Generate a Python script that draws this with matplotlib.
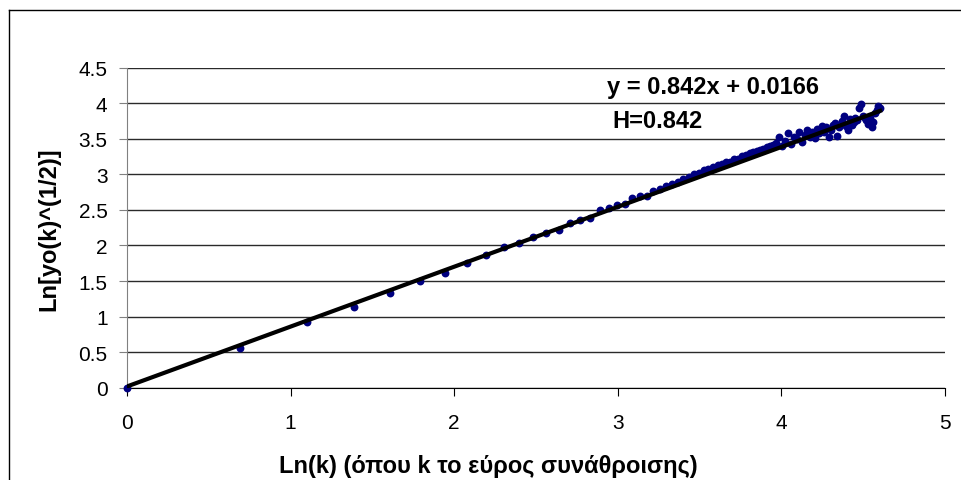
import numpy as np
import matplotlib
matplotlib.use("Agg")
import matplotlib.pyplot as plt
from matplotlib.lines import Line2D

# aggregation width k and measured Ln[yo(k)^(1/2)]
k_values = list(range(1, 101))
ln_y = [
    0.00, 0.56, 0.92, 1.14, 1.33, 1.50, 1.61, 1.75, 1.86, 1.98,
    2.03, 2.12, 2.17, 2.22, 2.31, 2.36, 2.39, 2.50, 2.53, 2.57,
    2.59, 2.67, 2.70, 2.70, 2.76, 2.80, 2.84, 2.86, 2.90, 2.94,
    2.96, 3.00, 3.02, 3.06, 3.07, 3.10, 3.13, 3.14, 3.17, 3.18,
    3.21, 3.22, 3.26, 3.27, 3.30, 3.31, 3.33, 3.35, 3.36, 3.39,
    3.40, 3.42, 3.44, 3.53, 3.40, 3.47, 3.58, 3.43, 3.52, 3.50,
    3.59, 3.46, 3.55, 3.63, 3.52, 3.60, 3.51, 3.64, 3.58, 3.68,
    3.59, 3.66, 3.52, 3.62, 3.70, 3.73, 3.54, 3.67, 3.75, 3.82,
    3.68, 3.62, 3.78, 3.70, 3.74, 3.80, 3.76, 3.93, 3.99, 3.82,
    3.79, 3.76, 3.71, 3.80, 3.67, 3.74, 3.86, 3.90, 3.96, 3.93,
]

# linear trendline from the chart
slope = 0.842
intercept = 0.0166

x_ticks = [0, 1, 2, 3, 4, 5]
y_ticks = [0, 0.5, 1, 1.5, 2, 2.5, 3, 3.5, 4, 4.5]

plt.rcParams["font.family"] = ["Liberation Sans", "DejaVu Sans"]

x = np.log(k_values)
y = np.array(ln_y)

fig = plt.figure(figsize=(9.62, 4.81), dpi=100)
ax = fig.add_axes([0.132, 0.192, 0.85, 0.665])

ax.scatter(x, y, s=32, color="#000080", zorder=3, linewidths=0, clip_on=False)

x_fit = np.array([x.min(), x.max()])
ax.plot(x_fit, slope * x_fit + intercept, color="black", linewidth=3.0, zorder=4)

ax.set_xlim(0, 5)
ax.set_ylim(0, 4.5)
ax.set_xticks(x_ticks)
ax.set_yticks(y_ticks)
ax.set_xticklabels([str(t) for t in x_ticks])
ax.set_yticklabels([f"{t:g}" for t in y_ticks])
ax.tick_params(axis="both", labelsize=15, direction="out", length=6, width=0.8)
ax.tick_params(axis="x", pad=12, colors="black")
ax.tick_params(axis="y", pad=8, color="#808080", labelcolor="black")

ax.grid(True, axis="y", color="#2a2a2a", linewidth=1.0)
ax.set_axisbelow(True)

for side in ["top", "right"]:
    ax.spines[side].set_visible(False)
ax.spines["left"].set_color("#808080")
ax.spines["bottom"].set_color("black")

# axis titles
fig.text(488 / 962, 1 - 467 / 481, "Ln(k) (όπου k το εύρος συνάθροισης)",
         fontsize=17, fontweight="bold", ha="center", va="center")
fig.text(49 / 962, 1 - 229 / 481, "Ln[yo(k)^(1/2)]", rotation=90,
         fontsize=17, fontweight="bold", ha="center", va="center")

ax.text(0.587, 0.94, "y = 0.842x + 0.0166", transform=ax.transAxes,
        fontsize=17, fontweight="bold", va="center", ha="left")
ax.text(0.593, 0.834, "H=0.842", transform=ax.transAxes,
        fontsize=17, fontweight="bold", va="center", ha="left")

# chart area border (left and top edges visible)
fig.add_artist(Line2D([9 / 962, 9 / 962], [0, 1 - 11 / 481], transform=fig.transFigure,
                      color="black", linewidth=1))
fig.add_artist(Line2D([9 / 962, 1], [1 - 11 / 481, 1 - 11 / 481], transform=fig.transFigure,
                      color="black", linewidth=1))

fig.savefig("out.png", dpi=100)
